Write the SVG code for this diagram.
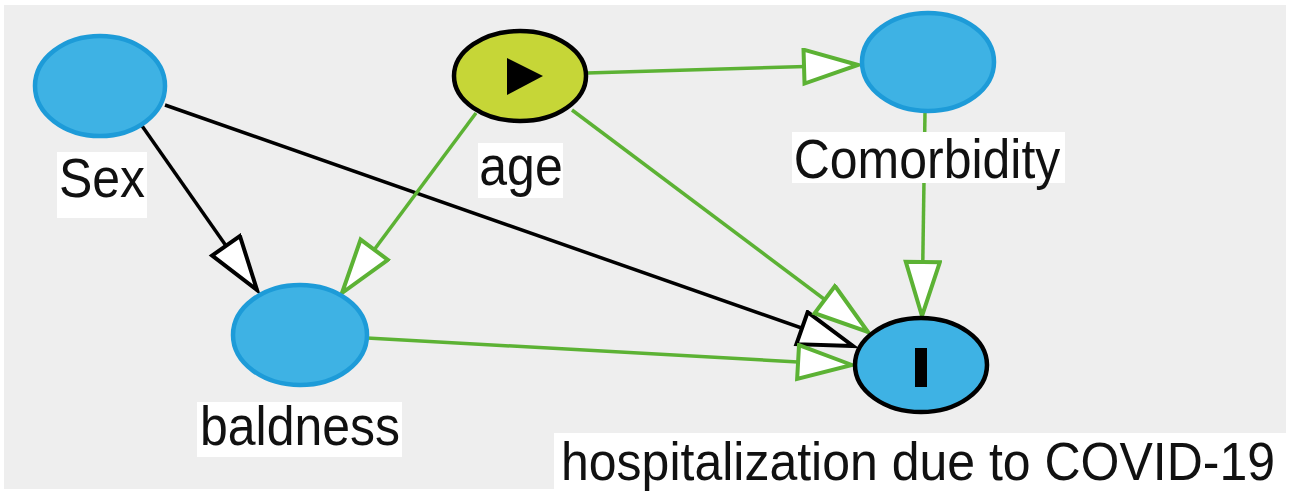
<svg xmlns="http://www.w3.org/2000/svg" width="1290" height="492" viewBox="0 0 1290 492">
<style>
.bg{fill:#eeeeee}
.blue{fill:#3eb2e4;stroke:#1d9bd8;stroke-width:4.5}
.exp{fill:#c6d637;stroke:#000;stroke-width:4.5}
.out{fill:#3eb2e4;stroke:#000;stroke-width:4.5}
.lbl{fill:#ffffff}
text{font-family:"Liberation Sans",Arial,sans-serif;font-size:50px;fill:#111;text-anchor:middle}
.g{stroke:#5cb234;stroke-width:3.5;fill:none}
.k{stroke:#000;stroke-width:3.5;fill:none}
</style>
<defs>
<marker id="ag" markerUnits="userSpaceOnUse" markerWidth="62" markerHeight="40" refX="57" refY="19" orient="auto" viewBox="0 0 62 40">
<path d="M3,2 L57,19 L3,36 Z" fill="#ffffff" stroke="#5cb234" stroke-width="4" stroke-linejoin="miter"/>
</marker>
<marker id="ak" markerUnits="userSpaceOnUse" markerWidth="62" markerHeight="40" refX="57" refY="19" orient="auto" viewBox="0 0 62 40">
<path d="M3,2 L57,19 L3,36 Z" fill="#ffffff" stroke="#000" stroke-width="4" stroke-linejoin="miter"/>
</marker>
</defs>
<rect x="0" y="0" width="1290" height="492" fill="#ffffff"/>
<rect class="bg" x="4" y="5" width="1282" height="484"/>
<g id="edges">
<line class="k" x1="140" y1="123" x2="257" y2="290" marker-end="url(#ak)"/>
<line class="k" x1="165" y1="105" x2="853" y2="346" marker-end="url(#ak)"/>
<line class="g" x1="587" y1="73" x2="858" y2="65" marker-end="url(#ag)"/>
<line class="g" x1="476" y1="113" x2="342" y2="293" marker-end="url(#ag)"/>
<line class="g" x1="572" y1="110" x2="868" y2="332" marker-end="url(#ag)"/>
<line class="g" x1="925" y1="112" x2="922" y2="316" marker-end="url(#ag)"/>
<line class="g" x1="367" y1="338" x2="852" y2="365" marker-end="url(#ag)"/>
</g>
<g id="sex">
<ellipse class="blue" cx="100" cy="86" rx="65" ry="50"/>
<rect class="lbl" x="57" y="152" width="90" height="66"/>
<text transform="translate(102,197) scale(1,1.12)">Sex</text>
</g>
<g id="age">
<ellipse class="exp" cx="520" cy="76" rx="66" ry="45"/>
<path d="M507,58 L507,95 L543,76 Z" fill="#000"/>
<rect class="lbl" x="478" y="143" width="85" height="55"/>
<text transform="translate(521,185) scale(1,1.12)">age</text>
</g>
<g id="comorbidity">
<ellipse class="blue" cx="928" cy="62" rx="66" ry="49"/>
<rect class="lbl" x="792" y="132" width="273" height="51"/>
<text transform="translate(927,178) scale(1,1.12)">Comorbidity</text>
</g>
<g id="baldness">
<ellipse class="blue" cx="300" cy="335" rx="67" ry="50"/>
<rect class="lbl" x="197" y="402" width="205" height="55"/>
<text transform="translate(300,445) scale(1,1.12)">baldness</text>
</g>
<g id="hospitalization">
<ellipse class="out" cx="921" cy="365" rx="66" ry="47"/>
<rect x="915" y="348" width="12" height="39" fill="#000"/>
<rect class="lbl" x="554" y="433" width="732" height="57"/>
<text transform="translate(918,480) scale(1,1.08)">hospitalization due to COVID-19</text>
</g>
</svg>
